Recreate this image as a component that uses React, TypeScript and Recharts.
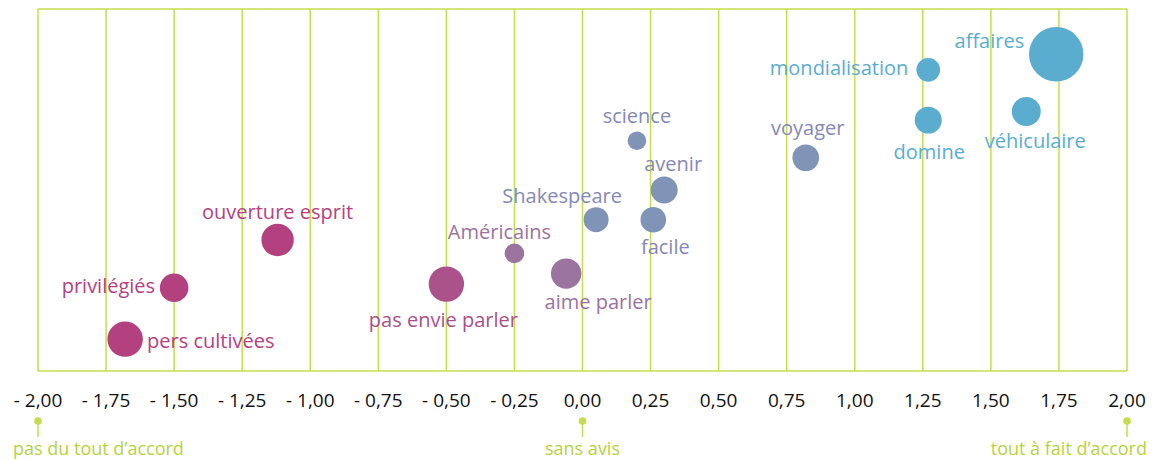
import React from 'react';
import { ScatterChart, Scatter, XAxis, YAxis, ZAxis, CartesianGrid } from 'recharts';

// positions des items : accord (axe horizontal), hauteur (sans unité), taille des bulles
const items = ['pers cultivées', 'privilégiés', 'ouverture esprit', 'pas envie parler', 'Américains', 'aime parler', 'Shakespeare', 'facile', 'avenir', 'science', 'voyager', 'mondialisation', 'domine', 'véhiculaire', 'affaires'];
const accord = [-1.68, -1.5, -1.12, -0.5, -0.25, -0.06, 0.05, 0.26, 0.3, 0.2, 0.82, 1.27, 1.27, 1.63, 1.74];
const hauteur = [8.8, 23.0, 36.2, 24.0, 32.5, 26.9, 41.8, 41.8, 50.0, 63.6, 58.9, 83.2, 69.3, 71.7, 87.5];
const taille = [313, 204, 262, 313, 96, 231, 156, 164, 182, 87, 177, 140, 182, 210, 740];
const groupe = ['g1', 'g1', 'g1', 'g2', 'g3', 'g3', 'g4', 'g4', 'g4', 'g4', 'g4', 'g5', 'g5', 'g5', 'g5'];

const groupes = ['g1', 'g2', 'g3', 'g4', 'g5'];
const xTicks = [-2, -1.75, -1.5, -1.25, -1, -0.75, -0.5, -0.25, 0, 0.25, 0.5, 0.75, 1, 1.25, 1.5, 1.75, 2];
const reperes = [
  { value: -2, texte: 'pas du tout d’accord' },
  { value: 0, texte: 'sans avis' },
  { value: 2, texte: 'tout à fait d’accord' },
];

// couleurs
const couleurBulle: Record<string, string> = {
  g1: '#b4417f',
  g2: '#aa5289',
  g3: '#9b739f',
  g4: '#7f94b7',
  g5: '#5aadcf',
};
const couleurTexte: Record<string, string> = {
  g1: '#b4417f',
  g2: '#aa4f8a',
  g3: '#9a73a0',
  g4: '#8489b5',
  g5: '#5aadcf',
};
const VERT = '#c6dc4e';
const FONT = "'Open Sans', sans-serif";

// placement des étiquettes autour des bulles
const placement: Record<string, { dx: number; dy: number; anchor: 'start' | 'middle' | 'end' }> = {
  'affaires': { dx: -32, dy: -14, anchor: 'end' },
  'mondialisation': { dx: -20, dy: -2, anchor: 'end' },
  'domine': { dx: 1, dy: 31, anchor: 'middle' },
  'véhiculaire': { dx: 9, dy: 29, anchor: 'middle' },
  'voyager': { dx: 2, dy: -30, anchor: 'middle' },
  'science': { dx: 0, dy: -25, anchor: 'middle' },
  'avenir': { dx: 9, dy: -27, anchor: 'middle' },
  'Shakespeare': { dx: -34, dy: -24, anchor: 'middle' },
  'facile': { dx: 12, dy: 27, anchor: 'middle' },
  'Américains': { dx: -15, dy: -22, anchor: 'middle' },
  'aime parler': { dx: 32, dy: 28, anchor: 'middle' },
  'pas envie parler': { dx: -3, dy: 35, anchor: 'middle' },
  'ouverture esprit': { dx: 0, dy: -28, anchor: 'middle' },
  'privilégiés': { dx: -19, dy: -2, anchor: 'end' },
  'pers cultivées': { dx: 22, dy: 1, anchor: 'start' },
};

const data = items.map((nom, i) => ({ nom, x: accord[i], y: hauteur[i], z: taille[i], groupe: groupe[i] }));

const formatTick = (v: number) => {
  const s = Math.abs(v).toFixed(2).replace('.', ',');
  return v < 0 ? `- ${s}` : s;
};

const Bulle = (props: any) => {
  const { cx, cy, payload } = props;
  const r = props.width ? props.width / 2 : Math.sqrt((props.size ?? 64) / Math.PI);
  const p = placement[payload.nom];
  return (
    <g>
      <circle cx={cx} cy={cy} r={r} fill={couleurBulle[payload.groupe]} />
      <text
        x={cx + p.dx}
        y={cy + p.dy}
        textAnchor={p.anchor}
        dominantBaseline="central"
        fontFamily={FONT}
        fontSize={20}
        fill={couleurTexte[payload.groupe]}
      >
        {payload.nom}
      </text>
    </g>
  );
};

const TickAxe = (props: any) => {
  const { x, y, payload } = props;
  const repere = reperes.find((r) => r.value === payload.value);
  let anchor: 'start' | 'middle' | 'end' = 'middle';
  let dx = 0;
  if (repere && repere.value < 0) { anchor = 'start'; dx = -25; }
  if (repere && repere.value > 0) { anchor = 'end'; dx = 20; }
  return (
    <g>
      <text x={x} y={y + 29} textAnchor="middle" dominantBaseline="central" fontFamily={FONT} fontSize={19} fill="#111">
        {formatTick(payload.value)}
      </text>
      {repere && (
        <g>
          <circle cx={x} cy={y + 50} r={3.8} fill={VERT} />
          <line x1={x} y1={y + 50} x2={x} y2={y + 66} stroke={VERT} strokeWidth={1.5} />
          <text x={x + dx} y={y + 77} textAnchor={anchor} dominantBaseline="central" fontFamily={FONT} fontSize={18} fill="#b5d33e">
            {repere.texte}
          </text>
        </g>
      )}
    </g>
  );
};

export default function App() {
  return (
    <div style={{ position: 'absolute', left: 0, top: 0, background: '#fff' }}>
      <ScatterChart width={1168} height={460} margin={{ top: 9, right: 41, left: 38, bottom: 0 }}>
        <CartesianGrid stroke={VERT} strokeWidth={1.5} />
        <XAxis
          type="number"
          dataKey="x"
          domain={[-2, 2]}
          ticks={xTicks}
          interval={0}
          height={89}
          axisLine={false}
          tickLine={false}
          tickSize={0}
          tickMargin={0}
          tick={<TickAxe />}
        />
        <YAxis type="number" dataKey="y" domain={[0, 100]} ticks={[0, 100]} width={0} tick={false} axisLine={false} tickLine={false} />
        <ZAxis type="number" dataKey="z" domain={[0, 1000]} range={[0, 1000 * Math.PI]} />
        {groupes.map((g) => (
          <Scatter
            key={g}
            data={data.filter((d) => d.groupe === g)}
            fill={couleurBulle[g]}
            shape={<Bulle />}
            isAnimationActive={false}
          />
        ))}
      </ScatterChart>
    </div>
  );
}
